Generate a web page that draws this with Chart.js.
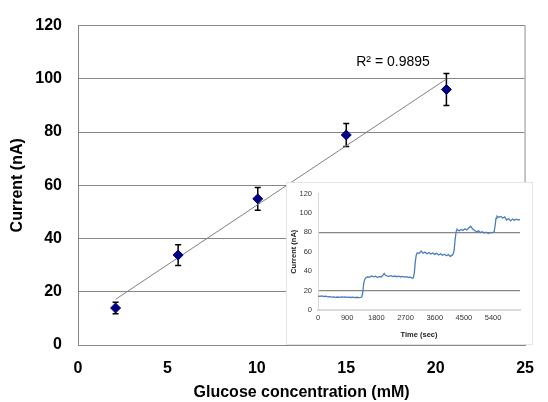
<!DOCTYPE html>
<html>
<head>
<meta charset="utf-8">
<script src="https://cdn.jsdelivr.net/npm/chart.js@4.4.0/dist/chart.umd.min.js"></script>
<style>
  body { margin: 0; background: #fff; }
  #wrap { position: relative; width: 548px; height: 402px; }
  #mainChart { position: absolute; left: 0; top: 0; }
  #insetBox { position: absolute; left: 286px; top: 182px; width: 245px; height: 161px;
              border: 1px solid #e4e4e4; background: #fff; }
  #insetChart { position: absolute; left: 0; top: 0; }
</style>
</head>
<body>
<div id="wrap">
  <canvas id="mainChart" width="548" height="402"></canvas>
  <div id="insetBox"><canvas id="insetChart" width="245" height="161"></canvas></div>
</div>
<script>
// calibration points (main chart)
const concentration = [2.1, 5.6, 10.05, 15.0, 20.6];
const current = [13.9, 33.8, 54.9, 78.9, 96.0];
const errorBar = [2.2, 3.9, 4.3, 4.3, 6.0];
const r2Text = "R\u00b2 = 0.9895";

// amperometric trace (inset)
const insetTime = [
  0, 60, 120, 180, 240, 300, 360, 420, 480, 540,
  600, 660, 720, 780, 840, 900, 960, 1020, 1080, 1140,
  1200, 1260, 1320, 1350, 1380, 1410, 1440, 1470, 1530, 1590,
  1650, 1710, 1770, 1830, 1890, 1950, 2010, 2040, 2070, 2130,
  2190, 2250, 2310, 2370, 2430, 2490, 2550, 2610, 2670, 2730,
  2790, 2850, 2910, 2940, 2970, 3000, 3030, 3060, 3120, 3180,
  3240, 3300, 3360, 3420, 3480, 3540, 3600, 3660, 3720, 3780,
  3840, 3900, 3960, 4020, 4080, 4140, 4170, 4200, 4230, 4260,
  4290, 4350, 4410, 4470, 4530, 4590, 4650, 4710, 4770, 4830,
  4890, 4950, 5010, 5070, 5130, 5190, 5250, 5310, 5370, 5430,
  5460, 5490, 5520, 5580, 5640, 5700, 5760, 5820, 5880, 5940,
  6000, 6060, 6120, 6180, 6230
];
const insetCurrent = [
  14.3, 14.0, 14.5, 13.9, 14.2, 13.6, 13.8, 13.3, 13.6, 13.1,
  13.4, 13.0, 13.5, 13.2, 13.4, 13.0, 13.3, 12.9, 13.2, 12.8,
  13.1, 12.7, 13.0, 13.4, 18.0, 27.5, 31.5, 33.0, 34.2, 33.6,
  35.0, 34.1, 34.8, 33.7, 34.4, 34.0, 36.2, 37.6, 36.0, 35.2,
  34.6, 35.3, 34.5, 35.0, 34.3, 34.9, 34.0, 34.6, 33.8, 34.3,
  33.5, 33.9, 32.6, 33.2, 38.0, 49.5, 56.5, 59.0, 58.2, 60.8,
  58.5, 59.6, 58.0, 59.2, 57.6, 58.8, 57.3, 58.4, 56.6, 57.9,
  56.3, 57.4, 55.9, 57.0, 55.2, 56.5, 57.8, 62.0, 73.0, 80.5,
  83.2, 81.4, 83.0, 82.0, 83.6, 82.4, 84.5, 86.2, 83.4, 81.8,
  80.6, 81.5, 79.8, 80.6, 79.2, 80.1, 78.8, 80.0, 79.4, 80.6,
  86.0, 94.5, 96.8, 95.6, 96.4, 94.8, 95.9, 92.6, 94.2, 91.8,
  93.6, 92.4, 93.5, 92.7, 93.1
];
const insetTimeTicks = [0, 900, 1800, 2700, 3600, 4500, 5400];
const insetGridValues = [20, 80];

// linear least-squares trendline through the calibration points
const n = concentration.length;
const mx = concentration.reduce((a, b) => a + b, 0) / n;
const my = current.reduce((a, b) => a + b, 0) / n;
let sxy = 0, sxx = 0;
for (let i = 0; i < n; i++) {
  sxy += (concentration[i] - mx) * (current[i] - my);
  sxx += (concentration[i] - mx) ** 2;
}
const slope = sxy / sxx;
const intercept = my - slope * mx;
const xMin = Math.min(...concentration), xMax = Math.max(...concentration);
const trend = [
  { x: xMin, y: intercept + slope * xMin },
  { x: xMax, y: intercept + slope * xMax }
];

const points = concentration.map((c, i) => ({ x: c, y: current[i] }));

const errorBarPlugin = {
  id: "errorBars",
  beforeDatasetsDraw(chart) {
    const ctx = chart.ctx;
    const xs = chart.scales.x, ys = chart.scales.y;
    ctx.save();
    ctx.strokeStyle = "#000";
    ctx.lineWidth = 1.5;
    for (let i = 0; i < n; i++) {
      const px = xs.getPixelForValue(concentration[i]);
      const top = ys.getPixelForValue(current[i] + errorBar[i]);
      const bot = ys.getPixelForValue(current[i] - errorBar[i]);
      ctx.beginPath();
      ctx.moveTo(px, top); ctx.lineTo(px, bot);
      ctx.moveTo(px - 3, top); ctx.lineTo(px + 3, top);
      ctx.moveTo(px - 3, bot); ctx.lineTo(px + 3, bot);
      ctx.stroke();
    }
    ctx.restore();
  },
  afterDraw(chart) {
    const ctx = chart.ctx, a = chart.chartArea;
    ctx.save();
    // right border of the plot area
    ctx.strokeStyle = "#b4b4b4";
    ctx.lineWidth = 1.5;
    ctx.beginPath();
    ctx.moveTo(a.right, a.top); ctx.lineTo(a.right, a.bottom);
    ctx.stroke();
    // R² label
    ctx.fillStyle = "#000";
    ctx.font = "14px Arial, 'Liberation Sans', sans-serif";
    ctx.textAlign = "center";
    ctx.textBaseline = "middle";
    ctx.fillText(r2Text, a.left + 315, a.top + 37);
    ctx.restore();
  }
};

const boldFont = { family: "Arial, 'Liberation Sans', sans-serif", size: 16, weight: "bold" };

new Chart(document.getElementById("mainChart"), {
  type: "scatter",
  data: {
    datasets: [
      {
        label: "Current",
        data: points,
        pointStyle: "rectRot",
        pointRadius: 5,
        backgroundColor: "#000080",
        borderColor: "#000080",
        borderWidth: 1,
        order: 0
      },
      {
        type: "line",
        label: "Trend",
        data: trend,
        borderColor: "#808080",
        borderWidth: 1,
        pointRadius: 0,
        fill: false,
        order: 1
      }
    ]
  },
  options: {
    responsive: false,
    animation: false,
    layout: { padding: { top: 17, right: 9, left: 0, bottom: 0 } },
    plugins: { legend: { display: false }, tooltip: { enabled: false } },
    scales: {
      x: {
        type: "linear",
        min: 0,
        max: 25,
        afterFit(s) { s.height = 57; },
        ticks: { stepSize: 5, color: "#000", font: boldFont, padding: 14 },
        grid: { drawOnChartArea: false, drawTicks: false },
        border: { color: "#868686", width: 1 },
        title: { display: true, text: "Glucose concentration (mM)", color: "#000", font: boldFont, padding: { top: 0, bottom: 0 } }
      },
      y: {
        min: 0,
        max: 120,
        afterFit(s) { s.width = 78; },
        ticks: { stepSize: 20, color: "#000", font: boldFont, padding: 16 },
        grid: { color: "#868686", lineWidth: 1, drawTicks: false },
        border: { color: "#868686", width: 1 },
        title: { display: true, text: "Current (nA)", color: "#000", font: boldFont, padding: { top: 8, bottom: 0 } }
      }
    }
  },
  plugins: [errorBarPlugin]
});

// inset chart
const smallFont = { family: "Arial, 'Liberation Sans', sans-serif", size: 7.5 };
const smallBold = { family: "Arial, 'Liberation Sans', sans-serif", size: 7.5, weight: "bold" };

new Chart(document.getElementById("insetChart"), {
  type: "scatter",
  data: {
    datasets: [{
      data: insetTime.map((t, i) => ({ x: t, y: insetCurrent[i] })),
      showLine: true,
      borderColor: "#4a7ebb",
      borderWidth: 1.3,
      pointRadius: 0,
      fill: false
    }]
  },
  options: {
    responsive: false,
    animation: false,
    layout: { padding: { top: 9, right: 12, left: 0, bottom: 0 } },
    plugins: { legend: { display: false }, tooltip: { enabled: false } },
    scales: {
      x: {
        type: "linear",
        min: 0,
        max: 6230,
        afterFit(s) { s.height = 34; },
        afterBuildTicks(s) { s.ticks = insetTimeTicks.map(v => ({ value: v })); },
        ticks: { color: "#333", font: smallFont, padding: 3, callback: v => String(v) },
        grid: { drawOnChartArea: false, drawTicks: false },
        border: { color: "#d9d9d9", width: 2 },
        title: { display: true, text: "Time (sec)", color: "#222", font: smallBold, padding: { top: 0, bottom: 5 } }
      },
      y: {
        min: 0,
        max: 120,
        afterFit(s) { s.width = 31; },
        ticks: { stepSize: 20, color: "#333", font: smallFont, padding: 6 },
        grid: {
          drawTicks: false,
          color: (c) => insetGridValues.includes(c.tick.value) ? "#868686" : "rgba(0,0,0,0)",
          lineWidth: 1.2
        },
        border: { color: "#d9d9d9", width: 1 },
        title: { display: true, text: "Current (nA)", color: "#222", font: smallBold, padding: { top: 2, bottom: 0 } }
      }
    }
  }
});
</script>
</body>
</html>
